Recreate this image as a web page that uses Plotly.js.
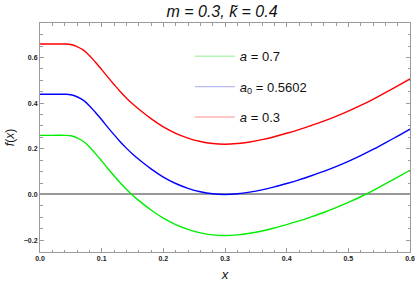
<!DOCTYPE html>
<html>
<head>
<meta charset="utf-8">
<script src="https://cdn.plot.ly/plotly-3.0.1.min.js"></script>
<style>html,body{margin:0;padding:0;background:#fff;}#chart{width:415px;height:284px;}</style>
</head>
<body>
<div id="chart"></div>
<script>
const xValues = [0, 0.02, 0.04, 0.05, 0.06, 0.07, 0.08, 0.09, 0.10, 0.11, 0.12, 0.13, 0.14, 0.15, 0.16, 0.18, 0.20, 0.22, 0.24, 0.26, 0.28, 0.30, 0.32, 0.34, 0.36, 0.38, 0.40, 0.42, 0.44, 0.46, 0.48, 0.50, 0.52, 0.54, 0.56, 0.58, 0.60];
const fA07 = [0.259, 0.259, 0.259, 0.257, 0.248, 0.233, 0.209, 0.179, 0.147, 0.114, 0.082, 0.051, 0.023, -0.003, -0.026, -0.068, -0.104, -0.132, -0.153, -0.168, -0.177, -0.180, -0.177, -0.170, -0.160, -0.147, -0.132, -0.116, -0.098, -0.079, -0.058, -0.035, -0.010, 0.017, 0.046, 0.076, 0.106];
const fA0 = [0.439, 0.439, 0.439, 0.437, 0.428, 0.413, 0.389, 0.359, 0.327, 0.294, 0.262, 0.231, 0.203, 0.177, 0.154, 0.112, 0.076, 0.048, 0.027, 0.012, 0.003, 0.000, 0.003, 0.010, 0.020, 0.033, 0.048, 0.064, 0.082, 0.101, 0.122, 0.145, 0.170, 0.197, 0.226, 0.256, 0.286];
const fA03 = [0.659, 0.659, 0.659, 0.657, 0.648, 0.633, 0.609, 0.579, 0.547, 0.514, 0.482, 0.451, 0.423, 0.397, 0.374, 0.332, 0.296, 0.268, 0.247, 0.232, 0.223, 0.220, 0.223, 0.230, 0.240, 0.253, 0.268, 0.284, 0.302, 0.321, 0.342, 0.365, 0.390, 0.417, 0.446, 0.476, 0.506];
const legendLabels = ['<i>a</i> = 0.7', '<i>a</i><sub>0</sub> = 0.5602', '<i>a</i> = 0.3'];
const xTicks = [0, 0.1, 0.2, 0.3, 0.4, 0.5, 0.6];
const yTicks = [-0.2, 0, 0.2, 0.4, 0.6];

const series = [fA07, fA0, fA03];
const colors = ['#00ee00', '#0000ff', '#ff0000'];
const paleColors = ['#b3f5b3', '#b9b9f3', '#ffb3b3'];

const traces = [];
series.forEach((ys, i) => {
  traces.push({x: xValues, y: ys, mode: 'lines', line: {color: colors[i], width: 1.4, shape: 'spline', smoothing: 1}, showlegend: false, hoverinfo: 'none'});
});
series.forEach((ys, i) => {
  traces.push({x: [null], y: [null], mode: 'lines', name: legendLabels[i], legendgroup: 'g' + i, line: {color: paleColors[i], width: 1.4}, showlegend: true});
});

const tickFont = {family: 'Liberation Sans, Arial, sans-serif', size: 7, color: '#222', weight: 'bold'};
const axisCommon = {
  showgrid: false, showline: true, linecolor: '#9a9a9a', linewidth: 1,
  mirror: 'ticks', ticks: 'inside', ticklen: 4, tickcolor: '#9a9a9a', tickwidth: 1,
  tickfont: tickFont
};
const layout = {
  width: 415, height: 284,
  margin: {l: 40, r: 5, t: 23, b: 32},
  paper_bgcolor: '#fff', plot_bgcolor: '#fff',
  font: {family: 'Liberation Sans, Arial, sans-serif', color: '#111'},
  title: {text: '<i>m = 0.3, k\u0303 = 0.4</i>', font: {size: 16, color: '#111'}, x: 0.535, xanchor: 'center', y: 0.98, yanchor: 'top'},
  xaxis: Object.assign({}, axisCommon, {
    zeroline: false,
    range: [0, 0.6], tickvals: xTicks, ticktext: xTicks.map(v => v.toFixed(1)),
    minor: {dtick: 0.02, tick0: 0, ticks: 'inside', ticklen: 2.5, tickcolor: '#9a9a9a', tickwidth: 1},
    title: {text: '<i>x</i>', font: {size: 13, color: '#111'}, standoff: 8}
  }),
  yaxis: Object.assign({}, axisCommon, {
    zeroline: true, zerolinecolor: '#999999', zerolinewidth: 2,
    range: [-0.252, 0.751], tickvals: yTicks, ticktext: yTicks.map(v => (v < 0 ? '\u2212' + Math.abs(v).toFixed(1) : v.toFixed(1))),
    minor: {dtick: 0.05, tick0: 0, ticks: 'inside', ticklen: 2.5, tickcolor: '#9a9a9a', tickwidth: 1},
    title: {text: '<i>f</i>(<i>x</i>)', font: {size: 12, color: '#111'}, standoff: 6}
  }),
  legend: {x: 0.405, y: 0.92, xanchor: 'left', yanchor: 'top', bgcolor: 'rgba(0,0,0,0)', borderwidth: 0,
    font: {size: 13, color: '#111'}, tracegroupgap: 10.5, itemwidth: 40}
};
Plotly.newPlot('chart', traces, layout, {displayModeBar: false, staticPlot: true});
</script>
</body>
</html>
